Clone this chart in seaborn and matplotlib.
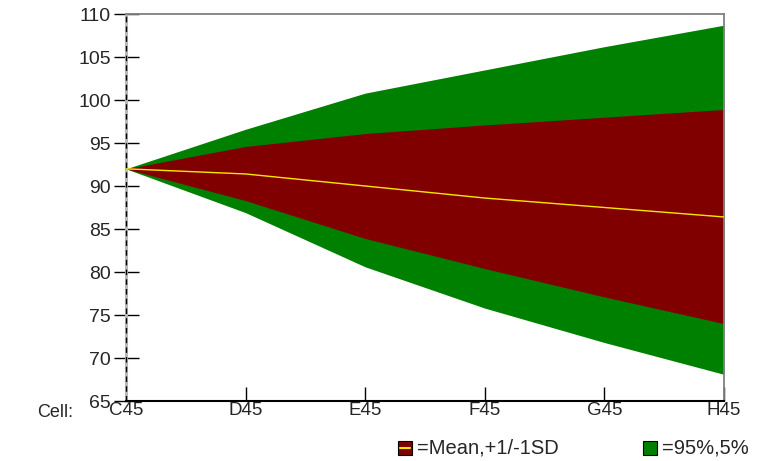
import matplotlib
matplotlib.use("Agg")
import matplotlib.pyplot as plt
import seaborn as sns
import pandas as pd
from matplotlib.patches import Rectangle
from matplotlib.lines import Line2D

cells = ["C45", "D45", "E45", "F45", "G45", "H45"]
mean = [92.0, 91.4, 90.0, 88.6, 87.5, 86.4]
sd_upper = [92.0, 94.6, 96.1, 97.1, 98.0, 98.9]
sd_lower = [92.0, 88.3, 83.9, 80.4, 77.1, 74.0]
p95 = [92.0, 96.6, 100.8, 103.5, 106.2, 108.7]
p5 = [92.0, 86.9, 80.6, 75.8, 71.8, 68.1]
yticks = [65, 70, 75, 80, 85, 90, 95, 100, 105, 110]
legend_labels = ["=Mean,+1/-1SD", "=95%,5%"]

RED = "#800000"
GREEN = "#008000"
YELLOW = "#FFE600"

df = pd.DataFrame({"cell": cells, "pos": range(len(cells)), "mean": mean})

sns.set_theme(style="white")
plt.rcParams["font.family"] = ["Liberation Sans", "DejaVu Sans"]

W, H = 757, 461
fig = plt.figure(figsize=(W / 100, H / 100), dpi=100)
ax = fig.add_axes([126 / W, 1 - 401 / H, (724 - 126) / W, (401 - 14) / H])

x = df["pos"]
ax.fill_between(x, p5, p95, color=GREEN, linewidth=0, zorder=1)
ax.fill_between(x, sd_lower, sd_upper, color=RED, linewidth=0, zorder=2)
sns.lineplot(data=df, x="pos", y="mean", color=YELLOW, linewidth=1.0, ax=ax, zorder=3)

ax.set_xlim(0, len(cells) - 1)
ax.set_ylim(65, 110)
ax.set_xticks(list(x))
ax.set_xticklabels(cells)
ax.set_yticks(yticks)
ax.set_xlabel("")
ax.set_ylabel("")

for side in ["top", "right"]:
    ax.spines[side].set_color("#808080")
    ax.spines[side].set_linewidth(1.3)
ax.spines["bottom"].set_color("black")
ax.spines["bottom"].set_linewidth(1.5)
ax.spines["left"].set_color("#b8b8b8")
ax.spines["left"].set_linewidth(2.2)
ax.axvline(0, color="black", linestyle=(0, (4, 3)), linewidth=1, zorder=5, clip_on=False)

ax.tick_params(axis="y", direction="inout", length=18, width=1, color="black",
               labelsize=14, pad=2, left=True)
ax.tick_params(axis="x", direction="in", length=10, width=1, color="black",
               labelsize=13.5, pad=1, bottom=True)

fig.text(55 / W, 1 - 412 / H, "Cell:", fontsize=13, ha="center", va="center")

# legend (manual, figure pixel coords)
def fx(px):
    return px / W

def fy(py):
    return 1 - py / H

for (x0, label, color, has_line, tx) in [
    (398, legend_labels[0], RED, True, 417),
    (643, legend_labels[1], GREEN, False, 662),
]:
    fig.patches.append(Rectangle((fx(x0), fy(455)), 14 / W, 14 / H, facecolor=color,
                                 edgecolor="black", linewidth=0.8,
                                 transform=fig.transFigure, figure=fig))
    if has_line:
        fig.lines.append(Line2D([fx(x0 + 2), fx(x0 + 12)], [fy(448), fy(448)],
                                color=YELLOW, linewidth=1.5,
                                transform=fig.transFigure, figure=fig))
    fig.text(fx(tx), fy(448), label, fontsize=14.5, ha="left", va="center")

fig.savefig("out.png", dpi=100)
